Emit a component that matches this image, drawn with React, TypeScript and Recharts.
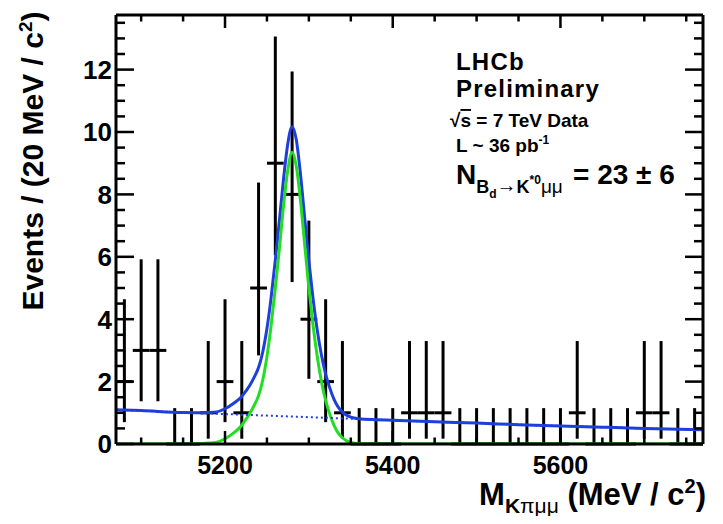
import React from 'react';
import { ComposedChart, XAxis, YAxis, Scatter, ErrorBar, Line } from 'recharts';

const FONT = '"Liberation Sans", Arial, Helvetica, sans-serif';

// Axis ranges
const X_MIN = 5070;
const X_MAX = 5770;
const Y_MAX = 13.75;

// Tick values
const xMajorTicks = [5200, 5400, 5600];
const xMinorTicks = [5100, 5150, 5250, 5300, 5350, 5450, 5500, 5550, 5650, 5700, 5750];
const yMajorTicks = [0, 2, 4, 6, 8, 10, 12];
const yMinorTicks = [0.5, 1, 1.5, 2.5, 3, 3.5, 4.5, 5, 5.5, 6.5, 7, 7.5, 8.5, 9, 9.5, 10.5, 11, 11.5, 12.5, 13, 13.5];

// Data: bin centres (MeV/c^2), counts, asymmetric Poisson errors
const binCenters = [5080, 5100, 5120, 5140, 5160, 5180, 5200, 5220, 5240, 5260, 5280, 5300, 5320, 5340, 5360, 5380, 5400, 5420, 5440, 5460, 5480, 5500, 5520, 5540, 5560, 5580, 5600, 5620, 5640, 5660, 5680, 5700, 5720, 5740, 5760];
const counts = [2, 3, 3, 0, 0, 1, 2, 1, 5, 9, 8, 4, 2, 1, 0, 0, 0, 1, 1, 1, 0, 0, 0, 0, 0, 0, 0, 1, 0, 0, 0, 1, 1, 0, 0];
const errLow = [1.3, 1.63, 1.63, 0, 0, 0.83, 1.3, 0.83, 2.16, 2.95, 2.81, 1.91, 1.3, 0.83, 0, 0, 0, 0.83, 0.83, 0.83, 0, 0, 0, 0, 0, 0, 0, 0.83, 0, 0, 0, 0.83, 0.83, 0, 0];
const errHigh = [2.64, 2.92, 2.92, 1.15, 1.15, 2.3, 2.64, 2.3, 3.38, 4.06, 3.94, 3.16, 2.64, 2.3, 1.15, 1.15, 1.15, 2.3, 2.3, 2.3, 1.15, 1.15, 1.15, 1.15, 1.15, 1.15, 1.15, 2.3, 1.15, 1.15, 1.15, 2.3, 2.3, 1.15, 1.15];
const binHalfWidth = 10;

// Fit curves
const curveMass = [5070, 5100, 5150, 5170, 5180, 5190, 5200, 5210, 5220, 5225, 5230, 5235, 5240, 5245, 5250, 5255, 5260, 5265, 5270, 5275, 5280, 5285, 5290, 5295, 5300, 5305, 5310, 5315, 5320, 5325, 5330, 5335, 5340, 5345, 5350, 5360, 5380, 5400, 5450, 5500, 5550, 5600, 5650, 5700, 5770];
const signalCurve = [0, 0, 0, 0.01, 0.03, 0.06, 0.17, 0.35, 0.6, 0.8, 1.0, 1.25, 1.55, 2.05, 2.8, 3.8, 5.0, 6.3, 7.7, 8.8, 9.35, 8.9, 7.8, 6.4, 5.0, 3.8, 2.8, 2.0, 1.4, 0.95, 0.6, 0.35, 0.2, 0.1, 0.05, 0.01, 0, 0, 0, 0, 0, 0, 0, 0, 0];
const totalCurve = [1.1, 1.07, 1.01, 1.0, 1.01, 1.03, 1.13, 1.3, 1.52, 1.7, 1.9, 2.15, 2.45, 2.95, 3.7, 4.7, 5.9, 7.2, 8.55, 9.65, 10.17, 9.75, 8.65, 7.25, 5.86, 4.66, 3.65, 2.85, 2.24, 1.79, 1.43, 1.18, 1.02, 0.92, 0.86, 0.81, 0.78, 0.76, 0.71, 0.67, 0.62, 0.58, 0.54, 0.5, 0.46];
const bgMass = [5070, 5150, 5200, 5250, 5300, 5350, 5400, 5450, 5500, 5550, 5600, 5650, 5700, 5770];
const bgCurve = [1.1, 1.01, 0.96, 0.91, 0.86, 0.81, 0.76, 0.71, 0.67, 0.62, 0.58, 0.54, 0.5, 0.46];

const pointsData = binCenters.map((m, i) => ({
  m,
  n: counts[i],
  ey: [errLow[i], errHigh[i]],
  ex: binHalfWidth,
}));
const curveData = curveMass.map((m, i) => ({ m, sig: signalCurve[i], tot: totalCurve[i] }));
const bgData = bgMass.map((m, i) => ({ m, bg: bgCurve[i] }));

const xTicks = [...xMajorTicks, ...xMinorTicks].sort((a, b) => a - b);
const yTicks = [...yMajorTicks, ...yMinorTicks].sort((a, b) => a - b);

const BLUE = '#1f3fdc';
const GREEN = '#22dd22';
const TICK_W = 2.5;

const BottomTick = (p: any) => {
  const v = p.payload.value;
  const major = xMajorTicks.includes(v);
  return (
    <g>
      <line x1={p.x} x2={p.x} y1={p.y} y2={p.y - (major ? 13 : 6.5)} stroke="#000" strokeWidth={TICK_W} />
      {major && (
        <text x={p.x} y={p.y + 29.5} textAnchor="middle" fontFamily={FONT} fontWeight="bold" fontSize={25} fill="#000">
          {v}
        </text>
      )}
    </g>
  );
};

const TopTick = (p: any) => {
  const v = p.payload.value;
  const major = xMajorTicks.includes(v);
  return <line x1={p.x} x2={p.x} y1={p.y} y2={p.y + (major ? 13 : 6.5)} stroke="#000" strokeWidth={TICK_W} />;
};

const LeftTick = (p: any) => {
  const v = p.payload.value;
  const major = yMajorTicks.includes(v);
  return (
    <g>
      <line x1={p.x} x2={p.x + (major ? 18 : 9)} y1={p.y} y2={p.y} stroke="#000" strokeWidth={TICK_W} />
      {major && (
        <text x={p.x - 4} y={p.y} dy="0.36em" textAnchor="end" fontFamily={FONT} fontWeight="bold" fontSize={26} fill="#000">
          {v}
        </text>
      )}
    </g>
  );
};

const RightTick = (p: any) => {
  const v = p.payload.value;
  const major = yMajorTicks.includes(v);
  return <line x1={p.x} x2={p.x - (major ? 18 : 9)} y1={p.y} y2={p.y} stroke="#000" strokeWidth={TICK_W} />;
};

const NoShape = () => <g />;

export default function App() {
  const axisLine = { stroke: '#000', strokeWidth: 3 };
  return (
    <div style={{ position: 'relative', width: 707, height: 508, background: '#fff' }}>
      <ComposedChart width={707} height={508} margin={{ top: 0, right: 0, bottom: 0, left: 0 }}>
        <XAxis
          xAxisId="b"
          dataKey="m"
          type="number"
          orientation="bottom"
          domain={[X_MIN, X_MAX]}
          allowDataOverflow
          ticks={xTicks}
          interval={0}
          height={72}
          tickLine={false}
          tickSize={0}
          tickMargin={0}
          axisLine={axisLine}
          tick={(p: any) => <BottomTick {...p} />}
        />
        <XAxis
          xAxisId="t"
          dataKey="m"
          type="number"
          orientation="top"
          domain={[X_MIN, X_MAX]}
          allowDataOverflow
          ticks={xTicks}
          interval={0}
          height={7}
          tickLine={false}
          tickSize={0}
          tickMargin={0}
          axisLine={axisLine}
          tick={(p: any) => <TopTick {...p} />}
        />
        <YAxis
          yAxisId="l"
          type="number"
          orientation="left"
          domain={[0, Y_MAX]}
          allowDataOverflow
          ticks={yTicks}
          interval={0}
          width={108}
          tickLine={false}
          tickSize={0}
          tickMargin={0}
          axisLine={axisLine}
          tick={(p: any) => <LeftTick {...p} />}
        />
        <YAxis
          yAxisId="r"
          type="number"
          orientation="right"
          domain={[0, Y_MAX]}
          allowDataOverflow
          ticks={yTicks}
          interval={0}
          width={12}
          tickLine={false}
          tickSize={0}
          tickMargin={0}
          axisLine={axisLine}
          tick={(p: any) => <RightTick {...p} />}
        />
        <Scatter
          xAxisId="b"
          yAxisId="l"
          data={pointsData}
          dataKey="n"
          shape={NoShape}
          isAnimationActive={false}
        >
          <ErrorBar dataKey="ey" direction="y" width={0} stroke="#000" strokeWidth={3} />
          <ErrorBar dataKey="ex" direction="x" width={0} stroke="#000" strokeWidth={3} />
        </Scatter>
        <Line
          xAxisId="b"
          yAxisId="l"
          data={curveData}
          dataKey="tot"
          type="monotone"
          stroke={BLUE}
          strokeWidth={3}
          dot={false}
          activeDot={false}
          isAnimationActive={false}
        />
        <Line
          xAxisId="b"
          yAxisId="l"
          data={curveData}
          dataKey="sig"
          type="monotone"
          stroke={GREEN}
          strokeWidth={3}
          dot={false}
          activeDot={false}
          isAnimationActive={false}
        />
        <Line
          xAxisId="b"
          yAxisId="l"
          data={bgData}
          dataKey="bg"
          type="monotone"
          stroke={BLUE}
          strokeWidth={2}
          strokeDasharray="2 3"
          dot={false}
          activeDot={false}
          isAnimationActive={false}
        />
      </ComposedChart>
      <svg
        width={707}
        height={508}
        style={{ position: 'absolute', left: 0, top: 0, pointerEvents: 'none', overflow: 'visible' }}
        fontFamily={FONT}
        fontWeight="bold"
        fill="#000"
      >
        <text transform="translate(35,153) rotate(-90)" textAnchor="middle" fontSize={30}>
          Events / (20 MeV / c<tspan fontSize={19} dy={-11}>2</tspan>
          <tspan dy={11}>)</tspan>
        </text>
        <text x={698} y={497} textAnchor="end" fontSize={31}>
          M<tspan fontSize={21} dy={8}>K</tspan>
          <tspan fontSize={21} fontWeight="normal">πμμ</tspan>
          <tspan dy={-8}> (MeV / c</tspan>
          <tspan fontSize={20} dy={-12}>2</tspan>
          <tspan dy={12}>)</tspan>
        </text>
        <text x={448} y={62} fontSize={24} letterSpacing={1.2}>LHCb</text>
        <text x={448} y={89} fontSize={24} letterSpacing={1.2}>Preliminary</text>
        <text x={442} y={119} fontSize={19}>
          √<tspan textDecoration="overline">s</tspan> = 7 TeV Data
        </text>
        <text x={448} y={144} fontSize={19}>
          L ~ 36 pb<tspan fontSize={12} dy={-8}>-1</tspan>
        </text>
        <text x={448} y={176} fontSize={28}>
          N<tspan fontSize={18} dy={9}>B</tspan>
          <tspan fontSize={12} dy={5}>d</tspan>
          <tspan fontSize={20} dy={-6} fontWeight="normal">→</tspan>
          <tspan fontSize={18} dy={1}>K</tspan>
          <tspan fontSize={12} dy={-9}>*0</tspan>
          <tspan fontSize={19} dy={9} fontWeight="normal">μμ</tspan>
        </text>
        <text x={565} y={176} fontSize={28}>= 23 ± 6</text>
      </svg>
    </div>
  );
}
